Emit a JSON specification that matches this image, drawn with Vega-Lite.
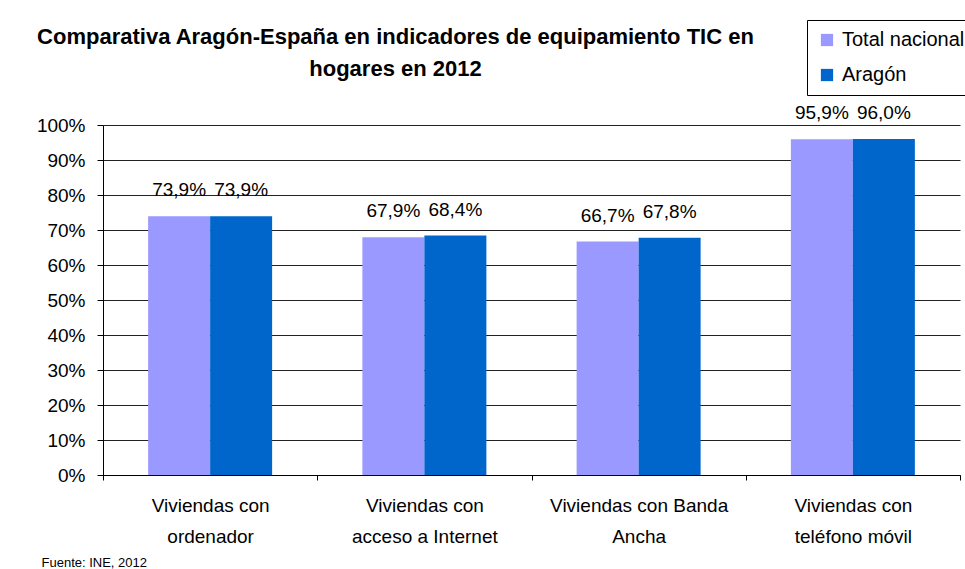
{
  "$schema": "https://vega.github.io/schema/vega-lite/v6.json",
  "width": 857,
  "height": 350,
  "autosize": {"type": "none"},
  "padding": {"left": 103, "top": 125, "right": 5, "bottom": 94},
  "background": "white",
  "config": {
    "locale": {"number": {"decimal": ",", "thousands": ".", "grouping": [3], "currency": ["", "€"]}},
    "font": "Liberation Sans",
    "view": {"stroke": null}
  },
  "title": {
    "text": ["Comparativa Aragón-España en indicadores de equipamiento TIC en", "hogares en 2012"],
    "font": "Liberation Sans",
    "fontSize": 22,
    "fontWeight": "bold",
    "lineHeight": 32,
    "anchor": "middle",
    "frame": "group",
    "dx": -136,
    "offset": -61,
    "color": "black"
  },
  "data": {
    "values": [
      {"indicador": "Viviendas con|ordenador", "serie": "Total nacional", "valor": 0.739},
      {"indicador": "Viviendas con|ordenador", "serie": "Aragón", "valor": 0.739},
      {"indicador": "Viviendas con|acceso a Internet", "serie": "Total nacional", "valor": 0.679},
      {"indicador": "Viviendas con|acceso a Internet", "serie": "Aragón", "valor": 0.684},
      {"indicador": "Viviendas con Banda|Ancha", "serie": "Total nacional", "valor": 0.667},
      {"indicador": "Viviendas con Banda|Ancha", "serie": "Aragón", "valor": 0.678},
      {"indicador": "Viviendas con|teléfono móvil", "serie": "Total nacional", "valor": 0.959},
      {"indicador": "Viviendas con|teléfono móvil", "serie": "Aragón", "valor": 0.960}
    ]
  },
  "encoding": {
    "x": {
      "field": "indicador",
      "type": "nominal",
      "sort": null,
      "scale": {"paddingInner": 0, "paddingOuter": 0},
      "axis": {
        "labelExpr": "split(datum.label, '|')",
        "labelAngle": 0,
        "labelFontSize": 19,
        "labelColor": "black",
        "labelLineHeight": 31,
        "labelPadding": 16,
        "labelBaseline": "top",
        "tickBand": "extent",
        "tickSize": 5,
        "tickColor": "black",
        "domainColor": "black",
        "title": "Fuente: INE, 2012",
        "titleFont": "Liberation Sans",
        "titleFontSize": 13,
        "titleFontWeight": "normal",
        "titleColor": "black",
        "titleAnchor": "start",
        "titleAlign": "left",
        "titleBaseline": "middle",
        "titleX": -62,
        "titleY": 87
      }
    },
    "xOffset": {
      "field": "serie",
      "type": "nominal",
      "sort": ["Total nacional", "Aragón"],
      "scale": {"paddingInner": 0, "paddingOuter": 0.728}
    },
    "y": {
      "field": "valor",
      "type": "quantitative",
      "scale": {"domain": [0, 1]},
      "axis": {
        "format": ".0%",
        "values": [0, 0.1, 0.2, 0.3, 0.4, 0.5, 0.6, 0.7, 0.8, 0.9, 1],
        "labelOverlap": false,
        "labelFontSize": 19,
        "labelColor": "black",
        "labelPadding": 12,
        "tickSize": 6,
        "tickColor": "black",
        "domainColor": "black",
        "grid": true,
        "gridColor": "#222222",
        "gridOpacity": 1,
        "title": null
      }
    }
  },
  "layer": [
    {
      "mark": {"type": "bar"},
      "encoding": {
        "color": {
          "field": "serie",
          "type": "nominal",
          "sort": ["Total nacional", "Aragón"],
          "scale": {"domain": ["Total nacional", "Aragón"], "range": ["#9999FF", "#0066CC"]},
          "legend": {
            "orient": "none",
            "legendX": 704,
            "legendY": -105,
            "title": null,
            "symbolType": "square",
            "symbolSize": 150,
            "symbolStrokeWidth": 0,
            "labelFontSize": 20,
            "labelColor": "black",
            "labelFont": "Liberation Sans",
            "strokeColor": "black",
            "fillColor": "white",
            "padding": 10,
            "rowPadding": 15,
            "labelOffset": 5
          }
        }
      }
    },
    {
      "mark": {"type": "text", "baseline": "bottom", "dy": -16, "fontSize": 19, "color": "black", "font": "Liberation Sans"},
      "encoding": {
        "text": {"field": "valor", "type": "quantitative", "format": ".1%"}
      }
    }
  ]
}
